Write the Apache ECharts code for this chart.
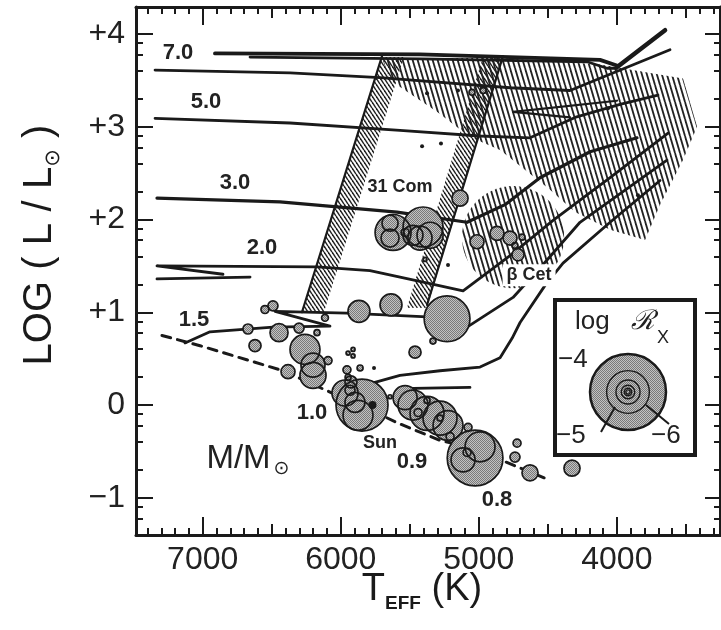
<!DOCTYPE html>
<html>
<head>
<meta charset="utf-8">
<title>HR diagram – coronal X-ray emission</title>
<script src="https://cdn.jsdelivr.net/npm/echarts@6/dist/echarts.min.js"></script>
<style>
  html, body { margin: 0; padding: 0; background: #fff; }
  #chart { width: 721px; height: 630px; }
</style>
</head>
<body>
<div id="chart"></div>
<script>
// ---------- axes ----------
const tempExtent = [3253, 7483];            // K (hot on the left)
const lumExtent = [-1.40, 4.29];            // log L/Lsun
const tempTicks = [4000, 5000, 6000, 7000];
const lumTicks = [-1, 0, 1, 2, 3, 4];

// ---------- evolutionary tracks [Teff, log L] ----------
const track70 = [[6911, 3.79], [5426, 3.78], [4122, 3.72], [4000, 3.66]];
const track70Back = [[6657, 3.75], [5426, 3.73], [4216, 3.70], [4071, 3.63], [4000, 3.63]];
const track70Giant = [[4000, 3.64], [3651, 4.04]];
const trackUpper = [[7345, 3.61], [6367, 3.58], [5716, 3.53], [4774, 3.42], [4339, 3.39], [3615, 3.83]];
const track50 = [[7345, 3.09], [6367, 3.04], [5571, 2.96], [4991, 2.90], [4629, 2.88], [4303, 3.10], [3977, 3.24], [3702, 3.34]];
const track50Loop = [[3999, 3.28], [4752, 3.16], [4339, 3.10]];
const track30 = [[7331, 2.23], [6440, 2.19], [5592, 2.08], [5085, 1.97], [4810, 2.16], [4557, 2.45], [4194, 2.73], [3854, 2.88]];
const track20Hook = [[6657, 1.38], [7331, 1.36]];
const track20 = [[6853, 1.41], [7331, 1.50], [6172, 1.49], [5788, 1.45], [5353, 1.31], [5114, 1.23], [4774, 1.61], [4462, 1.99], [4049, 2.45], [3629, 2.93]];
const track15 = [[7128, 0.67], [6947, 0.79], [6491, 0.84], [6078, 0.85], [6476, 1.01], [5955, 0.99], [5375, 0.95], [5085, 0.84], [4752, 1.16], [4520, 1.54], [4267, 1.97], [3637, 2.64]];
const track10 = [[5766, 0.24], [5571, 0.32], [5281, 0.37], [4991, 0.41], [4846, 0.51], [4759, 0.72], [4701, 0.89], [4520, 1.29], [4390, 1.53], [4049, 1.97], [3687, 2.42]];
const track09 = [[5476, 0.18], [5064, 0.19]];
const zams = [[7295, 0.75], [7019, 0.64], [6418, 0.37], [6078, 0.14], [5788, -0.05], [5592, -0.19], [5281, -0.38], [4991, -0.48], [4810, -0.61], [4484, -0.81]];

// ---------- Hertzsprung-gap edges and shaded zones ----------
const gapBlueEdge = [[5701, 3.76], [6281, 1.00]];
const gapRedEdge = [[4825, 3.76], [5375, 1.08]];
const gapBlueHatch = [[5701, 3.75], [5542, 3.75], [6122, 1.00], [6281, 1.00]];
const gapRedHatch = [[4825, 3.75], [4970, 3.75], [5520, 1.05], [5375, 1.05]];
const giantZone = [[5701, 3.74], [4846, 3.74], [4122, 3.67], [3521, 3.52], [3419, 3.00], [3521, 2.64], [3687, 2.16],
                   [3796, 1.78], [4049, 1.89], [4303, 2.08], [4484, 2.32], [4846, 2.75], [5064, 2.89], [5303, 3.16], [5643, 3.50]];
const betaCetZone = [4752, 1.81, 370];      // centre Teff, centre log L, radius in K

// ---------- stars [Teff, log L, log Rx] ----------
const stars = [
  [6549, 1.03, -5.96], [6491, 1.07, -5.76], [6114, 0.94, -6.10], [5868, 1.01, -5.08], [5636, 1.08, -5.08],
  [5230, 0.93, -4.44], [5332, 0.69, -6.21], [6672, 0.82, -5.76], [6447, 0.78, -5.25], [6302, 0.83, -5.76],
  [6172, 0.78, -6.21], [6621, 0.64, -5.60], [6259, 0.60, -4.81], [6201, 0.43, -5.00], [6201, 0.32, -4.93],
  [6092, 0.48, -5.96], [6382, 0.36, -5.47], [5947, 0.56, -6.56], [5911, 0.60, -6.56], [5911, 0.53, -6.56],
  [5462, 0.57, -5.60], [5955, 0.38, -5.96], [5860, 0.40, -6.21],
  [5846, 0.00, -4.33], [5969, 0.13, -4.93], [5897, 0.03, -5.16], [5933, 0.16, -5.76], [5875, -0.11, -4.81],
  [5926, 0.25, -5.60], [5947, 0.30, -6.21], [5643, 0.09, -6.56],
  [5534, 0.08, -5.00], [5477, 0.00, -4.81], [5375, -0.09, -4.70], [5281, -0.14, -4.70], [5223, -0.22, -4.81],
  [5440, -0.08, -5.96], [5281, -0.14, -6.21], [5375, 0.05, -6.21], [5078, -0.24, -5.96], [5208, -0.34, -5.96],
  [5027, -0.57, -4.27], [5114, -0.59, -5.00], [4991, -0.45, -4.81], [5085, -0.51, -5.96],
  [4723, -0.41, -5.96], [4738, -0.56, -5.76], [4629, -0.73, -5.35], [4325, -0.68, -5.35],
  [5136, 2.23, -5.35], [5404, 1.92, -4.56], [5621, 1.86, -4.65], [5643, 1.96, -5.35], [5643, 1.80, -5.25],
  [5426, 1.80, -5.00], [5477, 1.83, -5.16], [5534, 1.86, -5.96], [5353, 1.83, -4.93],
  [5013, 1.76, -5.47], [4868, 1.85, -5.47], [4774, 1.80, -5.47], [4716, 1.62, -5.60], [4687, 1.81, -6.21],
  [4738, 1.72, -6.21], [5390, 1.57, -6.56], [5049, 3.37, -6.21], [4969, 3.39, -6.21]
];
const faintStars = [[5759, 0.40], [5462, 0.17], [5223, 1.51], [5411, 2.79], [5274, 2.82], [5375, 3.36], [5151, 3.39], [3847, 2.26], [4064, 3.20]];
const sun = [[5770, 0.00]];
const legendRx = [-4, -4.5, -5, -5.5, -6, -6.5];

// ---------- annotations [Teff, log L, text] ----------
const massLabels = [[7179, 3.80, '7.0'], [6976, 3.27, '5.0'], [6766, 2.39, '3.0'], [6570, 1.69, '2.0'], [7063, 0.92, '1.5'],
                    [6208, -0.08, '1.0'], [5484, -0.61, '0.9'], [4868, -1.02, '0.8']];
const starLabels = [[5571, 2.35, '31 Com'], [4636, 1.40, 'β Cet'], [5716, -0.41, 'Sun']];
const massUnitLabel = [[6672, -0.58, 'M/M']];

// ---------- styling helpers ----------
const ink = '#1a1a1a';
const textInk = '#222';
const FONT = '"Liberation Sans", "DejaVu Sans", sans-serif';

// circle diameter in px from log Rx (log Rx = -4 gives 76 px)
function sizeOf(logRx) { return 76 * Math.pow(10, (logRx + 4) / 2); }

function hatch(w, h, lw) {
  const c = document.createElement('canvas');
  c.width = w; c.height = h;
  const ctx = c.getContext('2d');
  ctx.strokeStyle = '#222';
  ctx.lineWidth = lw;
  [-w, 0, w].forEach(x0 => { ctx.beginPath(); ctx.moveTo(x0, 0); ctx.lineTo(x0 + w, h); ctx.stroke(); });
  return { image: c, repeat: 'repeat' };
}
function screen() {
  const c = document.createElement('canvas');
  c.width = 2; c.height = 2;
  const ctx = c.getContext('2d');
  ctx.fillStyle = '#c2c2c2'; ctx.fillRect(0, 0, 2, 2);
  ctx.fillStyle = '#7a7a7a'; ctx.fillRect(0, 0, 1, 1); ctx.fillRect(1, 1, 1, 1);
  return { image: c, repeat: 'repeat' };
}
const bandHatch = hatch(4, 6, 1.5);
const zoneHatch = hatch(5, 17, 1.8);
const greyScreen = screen();

const hatchRegions = [
  { pts: gapBlueHatch, fill: bandHatch },
  { pts: gapRedHatch, fill: bandHatch },
  { pts: giantZone, fill: zoneHatch },
  { circle: betaCetZone, fill: zoneHatch }
];

// ---------- tick positions ----------
const tempMinor = [], tempMid = [];
for (let t = 3300; t <= 7400; t += 100) {
  if (t % 500 === 0 && t % 1000 !== 0) tempMid.push(t); else tempMinor.push(t);
}
const lumMinor = [];
for (let d = -2; d <= 4; d++) {
  [2, 4, 6, 8].forEach(m => {
    const v = d + Math.log10(m);
    if (v > lumExtent[0] && v < lumExtent[1]) lumMinor.push(v);
  });
}

function xAxis(pos, ticks, len, main, labels) {
  return {
    type: 'value', position: pos, inverse: true, min: tempExtent[0], max: tempExtent[1],
    axisLine: { show: main, onZero: false, lineStyle: { color: ink, width: 3 } },
    axisTick: { show: true, inside: true, length: len, customValues: ticks, lineStyle: { color: ink, width: 2 } },
    axisLabel: labels ? {
      show: true, customValues: tempTicks, fontSize: 32, color: textInk, margin: 9, fontFamily: FONT,
      formatter: v => String(Math.round(v))
    } : { show: false },
    splitLine: { show: false }
  };
}
function yAxis(pos, ticks, len, main, labels) {
  return {
    type: 'value', position: pos, min: lumExtent[0], max: lumExtent[1],
    axisLine: { show: main, onZero: false, lineStyle: { color: ink, width: 3 } },
    axisTick: { show: true, inside: true, length: len, customValues: ticks, lineStyle: { color: ink, width: 2 } },
    axisLabel: labels ? {
      show: true, customValues: lumTicks, fontSize: 32, color: textInk, margin: 11, fontFamily: FONT,
      formatter: v => v > 0 ? '+' + v : (v < 0 ? '\u2212' + Math.abs(v) : '0')
    } : { show: false },
    splitLine: { show: false }
  };
}

function line(data, width, dashed) {
  return {
    type: 'line', data: data, symbol: 'none', silent: true, z: 3, clip: true,
    lineStyle: { color: ink, width: width, type: dashed ? [9, 7] : 'solid', cap: 'round', join: 'round' }
  };
}

// star discs: one pass for the screened fill, one for the outlines on top
function discs(fill, stroke, z) {
  return {
    type: 'custom', silent: true, z: z, clip: true,
    data: stars.slice().sort((a, b) => a[2] - b[2]),
    renderItem: (params, api) => {
      const p = api.coord([api.value(0), api.value(1)]);
      return {
        type: 'circle', shape: { cx: p[0], cy: p[1], r: sizeOf(api.value(2)) / 2 },
        style: stroke ? { fill: null, stroke: ink, lineWidth: 1.7 } : { fill: fill }
      };
    }
  };
}

function textSeries(items, font, extra) {
  return {
    type: 'custom', silent: true, z: 8, clip: false,
    data: items.map(d => [d[0], d[1]]),
    renderItem: (params, api) => {
      const p = api.coord([api.value(0), api.value(1)]);
      return {
        type: 'text', x: p[0], y: p[1],
        style: Object.assign({ text: items[params.dataIndex][2], font: font, fill: textInk, align: 'center', verticalAlign: 'middle' },
                             extra ? extra(items[params.dataIndex][2]) : {})
      };
    }
  };
}

const gap = '\u2009\u200A';
const chart = echarts.init(document.getElementById('chart'), null, { renderer: 'canvas' });
chart.setOption({
  animation: false,
  backgroundColor: '#fff',
  grid: { left: 136, top: 7, width: 584, height: 528, containLabel: false, outerBoundsMode: 'none' },
  xAxis: [
    xAxis('bottom', tempTicks, 18, true, true),
    xAxis('bottom', tempMid, 11, false, false),
    xAxis('bottom', tempMinor, 7, false, false),
    xAxis('top', tempTicks, 18, true, false),
    xAxis('top', tempMid, 11, false, false),
    xAxis('top', tempMinor, 7, false, false)
  ],
  yAxis: [
    yAxis('left', lumTicks, 17, true, true),
    yAxis('left', lumMinor, 7, false, false),
    yAxis('right', lumTicks, 15, true, false),
    yAxis('right', lumMinor, 6, false, false)
  ],
  series: [
    {
      type: 'custom', silent: true, z: 1, clip: true,
      data: hatchRegions.map(r => r.pts ? r.pts[0] : [r.circle[0], r.circle[1]]),
      renderItem: (params, api) => {
        const r = hatchRegions[params.dataIndex];
        if (r.pts) {
          return { type: 'polygon', shape: { points: r.pts.map(p => api.coord(p)) }, style: { fill: r.fill } };
        }
        const c = api.coord([r.circle[0], r.circle[1]]);
        const rad = api.size([r.circle[2], 0])[0];
        return { type: 'circle', shape: { cx: c[0], cy: c[1], r: rad }, style: { fill: r.fill } };
      }
    },
    line(gapBlueEdge, 2.2),
    line(gapRedEdge, 2.2),
    line(track70, 3.8),
    line(track70Back, 2.8),
    line(track70Giant, 4.5),
    line(trackUpper, 2.8),
    line(track50, 2.8),
    line(track50Loop, 2.2),
    line(track30, 3.2),
    line(track20Hook, 2.8),
    line(track20, 2.8),
    line(track15, 2.8),
    line(track10, 2.8),
    line(track09, 2.8),
    line(zams, 3, true),
    discs(greyScreen, false, 4),
    discs(null, true, 5),
    { type: 'scatter', silent: true, z: 6, data: faintStars, symbolSize: 4, itemStyle: { color: ink, opacity: 1 } },
    { type: 'scatter', silent: true, z: 6, data: sun, symbolSize: 8, itemStyle: { color: ink, opacity: 1 } },
    textSeries(massLabels, 'bold 22px ' + FONT),
    textSeries(starLabels, 'bold 18px ' + FONT,
      t => t === 'β Cet' ? { backgroundColor: '#fff', padding: [2, 4] } : {}),
    textSeries(massUnitLabel, '32px ' + FONT, () => ({
      text: '{m|M/M}{s|\u2299}',
      rich: {
        m: { font: '33px ' + FONT, fill: textInk, lineHeight: 40, verticalAlign: 'middle' },
        s: { font: '19px "DejaVu Sans"', fill: textInk, lineHeight: 40, verticalAlign: 'bottom', padding: [0, 0, 0, 3] }
      }
    }))
  ],
  graphic: [
    // axis titles
    {
      type: 'text', x: 40, y: 245, rotation: Math.PI / 2, z: 20,
      style: {
        text: '{t|LOG (' + gap + 'L' + gap + '/' + gap + 'L}{s|\u2299}{t|' + gap + ')}', align: 'center', verticalAlign: 'middle',
        rich: {
          t: { font: '40px ' + FONT, fill: ink, lineHeight: 48, verticalAlign: 'middle' },
          s: { font: '21px "DejaVu Sans"', fill: ink, lineHeight: 48, verticalAlign: 'bottom' }
        }
      }
    },
    {
      type: 'text', x: 422, y: 590, z: 20,
      style: {
        text: '{t|T}{s|EFF}{t| (K)}', align: 'center', verticalAlign: 'middle',
        rich: {
          t: { font: '38px ' + FONT, fill: ink, lineHeight: 46, verticalAlign: 'middle' },
          s: { font: 'bold 19px ' + FONT, fill: ink, lineHeight: 46, verticalAlign: 'bottom' }
        }
      }
    },
    // log Rx key
    {
      type: 'group', z: 20,
      children: [
        { type: 'rect', shape: { x: 555, y: 300, width: 140, height: 155 }, style: { fill: '#fff', stroke: ink, lineWidth: 4 } },
        { type: 'text', x: 575, y: 322, style: { text: 'log', font: '26px ' + FONT, fill: textInk, align: 'left', verticalAlign: 'middle' } },
        { type: 'text', x: 631, y: 322, style: { text: '\u211B', font: 'italic 27px "DejaVu Serif"', fill: textInk, align: 'left', verticalAlign: 'middle' } },
        { type: 'text', x: 657, y: 338, style: { text: 'X', font: '18px ' + FONT, fill: textInk, align: 'left', verticalAlign: 'middle' } },
        { type: 'text', x: 558, y: 360, style: { text: '\u22124', font: '26px ' + FONT, fill: textInk, align: 'left', verticalAlign: 'middle' } },
        { type: 'text', x: 556, y: 436, style: { text: '\u22125', font: '26px ' + FONT, fill: textInk, align: 'left', verticalAlign: 'middle' } },
        { type: 'text', x: 651, y: 436, style: { text: '\u22126', font: '26px ' + FONT, fill: textInk, align: 'left', verticalAlign: 'middle' } }
      ].concat(legendRx.map((v, i) => ({
        type: 'circle', shape: { cx: 628, cy: 392, r: sizeOf(v) / 2 },
        style: i === 0 ? { fill: greyScreen, stroke: ink, lineWidth: 2.5 } : { fill: null, stroke: ink, lineWidth: 1.4 }
      }))).concat([
        { type: 'line', shape: { x1: 615, y1: 407, x2: 601, y2: 432 }, style: { stroke: ink, lineWidth: 2 } },
        { type: 'line', shape: { x1: 646, y1: 405, x2: 669, y2: 424 }, style: { stroke: ink, lineWidth: 2 } }
      ])
    }
  ]
});
</script>
</body>
</html>
